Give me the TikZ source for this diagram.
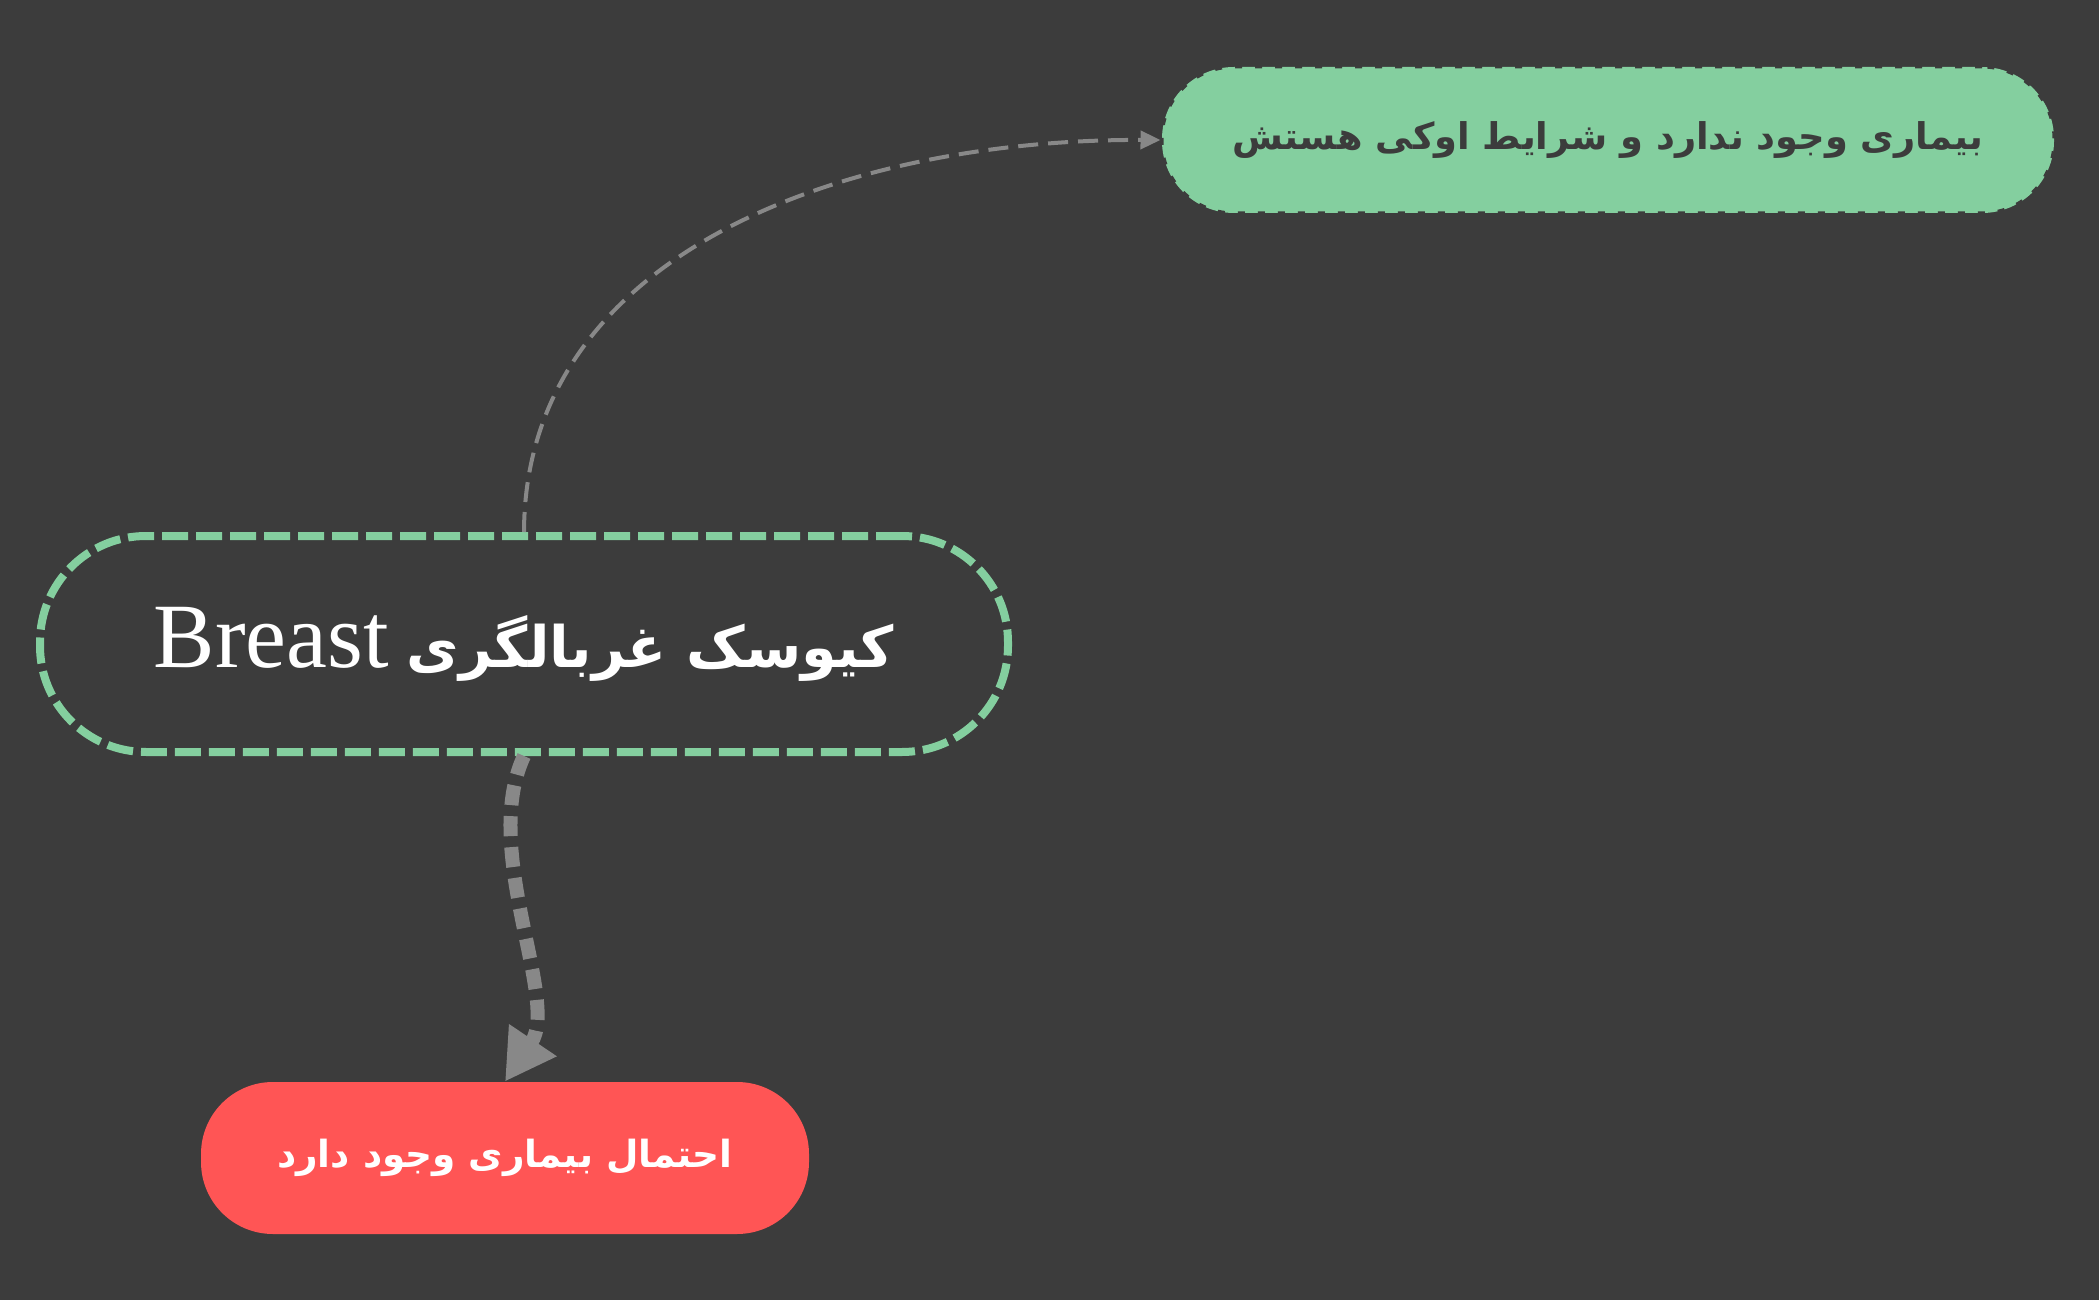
\documentclass[tikz,border=0pt]{standalone}
\usepackage{fontspec}
\usetikzlibrary{arrows.meta}
\TeXXeTstate=1
\newfontfamily\fa[Script=Arabic]{DejaVu Sans}
\newfontfamily\lat{Liberation Serif}
\definecolor{bg}{HTML}{3C3C3C}
\definecolor{grn}{HTML}{84CF9F}
\definecolor{rd}{HTML}{FF5555}
\definecolor{gry}{HTML}{888888}
\tikzset{
  okbox/.style={fill=grn, draw=bg, line width=1.5pt, dash pattern=on 3.5pt off 6.5pt,
    rounded corners=36pt, minimum width=446pt, minimum height=73pt, text=bg,
    font=\fa\bfseries\fontsize{18.4}{22}\selectfont},
  mainbox/.style={draw=grn, line width=4pt, dash pattern=on 13pt off 4pt,
    rounded corners=53pt, minimum width=484pt, minimum height=108pt, text=white},
  riskbox/.style={fill=rd, rounded corners=36pt, minimum width=304pt, minimum height=76pt,
    text=white, font=\fa\bfseries\fontsize{18.7}{22}\selectfont},
  thinarrow/.style={draw=gry, line width=2pt, dash pattern=on 10pt off 5pt,
    -{Triangle[length=10pt,width=9pt]}},
  thickarrow/.style={draw=gry, line width=7pt, dash pattern=on 10pt off 5.5pt,
    -{Triangle[length=25pt,width=27pt]}}
}
\begin{document}
\begin{tikzpicture}[x=0.5pt,y=-0.5pt]
\useasboundingbox[fill=bg] (0,0) rectangle (2099,1300);
\node[okbox] (ok) at (1608,140) {\beginR بیماری وجود ندارد و شرایط اوکی هستش\endR};
\node[mainbox] (kiosk) at (524,644) {\beginR{\fa\bfseries\fontsize{28.6}{34}\selectfont کیوسک غربالگری}\hspace{9pt}\beginL{\lat\fontsize{46}{52}\selectfont Breast}\endL\endR};
\node[riskbox] (risk) at (505,1158) {\beginR احتمال بیماری وجود دارد\endR};
\draw[thinarrow] (kiosk.north) .. controls (525,250) and (850,139) .. (ok.west);
\draw[thickarrow] (kiosk.south) .. controls (480,850) and (560,1000) .. (risk.north);
\end{tikzpicture}
\end{document}
